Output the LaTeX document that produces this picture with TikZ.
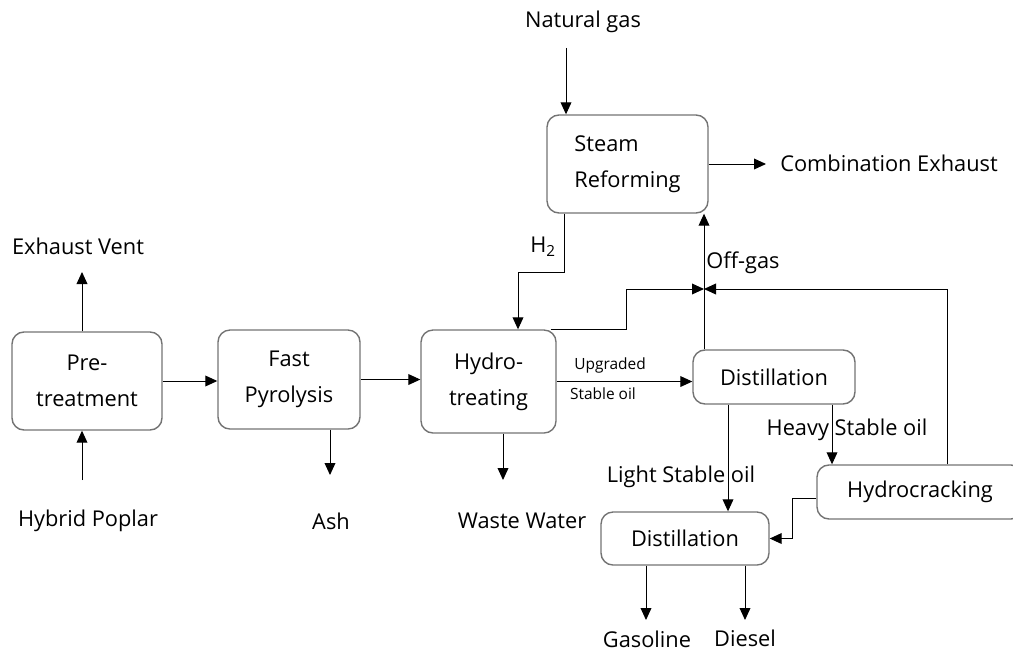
\documentclass[tikz,border=0pt]{standalone}
\usepackage{fontspec}
\setmainfont{Open Sans}
\usetikzlibrary{arrows.meta}

\begin{document}
\begin{tikzpicture}[
  font=\fontsize{15.5}{25.6}\selectfont,
  unit/.style={draw=black!55, line width=1pt, rounded corners=0.3cm, align=center, inner sep=0pt},
  flow/.style={line width=0.7pt, -{Triangle[length=0.3cm,width=0.27cm]}},
  tag/.style={inner sep=0pt},
  smalltag/.style={inner sep=0pt, font=\fontsize{11}{13}\selectfont}
]
\useasboundingbox (0,0) rectangle (25.325,-16.375);
\clip (0,0) rectangle (25.325,-16.375);
\node[unit, minimum width=3.750cm, minimum height=2.450cm] (pre) at (2.175,-9.525) {Pre-\\treatment};
\node[unit, minimum width=3.550cm, minimum height=2.475cm] (fast) at (7.225,-9.488) {Fast\\Pyrolysis};
\node[unit, minimum width=3.375cm, minimum height=2.575cm] (hydro) at (12.213,-9.538) {Hydro-\\treating};
\node[unit, minimum width=4.025cm, minimum height=2.450cm, align=left] (steam) at (15.688,-4.100) {Steam\\Reforming};
\node[unit, minimum width=4.050cm, minimum height=1.350cm] (distA) at (19.350,-9.425) {Distillation};
\node[unit, minimum width=5.150cm, minimum height=1.350cm] (crack) at (23.000,-12.300) {Hydrocracking};
\node[unit, minimum width=4.200cm, minimum height=1.325cm] (distB) at (17.125,-13.463) {Distillation};

\node[tag] (vent) at (1.950,-6.150) {Exhaust Vent};
\node[tag] (poplar) at (2.200,-13.025) {Hybrid Poplar};
\node[tag] (ash) at (8.275,-13.025) {Ash};
\node[tag] (water) at (13.050,-13.025) {Waste Water};
\node[tag] (gas) at (14.575,-0.550) {Natural gas};
\node[tag, anchor=west] (exhaust) at (19.500,-4.075) {Combination Exhaust};
\node[tag] (htwo) at (13.575,-6.175) {H\textsubscript{2}};
\node[tag, anchor=west] (offgas) at (17.650,-6.575) {Off-gas};
\node[smalltag] (upg) at (15.250,-9.125) {Upgraded};
\node[smalltag] (sto) at (15.075,-9.850) {Stable oil};
\node[tag] (light) at (17.025,-11.925) {Light Stable oil};
\node[tag] (heavy) at (21.175,-10.750) {Heavy Stable oil};
\node[tag] (gasoline) at (16.175,-15.975) {Gasoline};
\node[tag] (diesel) at (18.625,-15.950) {Diesel};

\coordinate (ventend) at (2.050,-6.800);
\coordinate (poplarstart) at (2.050,-12.000);
\coordinate (ashend) at (8.250,-11.875);
\coordinate (waterend) at (12.575,-12.000);
\coordinate (gasstart) at (14.150,-1.200);
\coordinate (exhaustend) at (19.150,-4.100);
\coordinate (j) at (17.600,-7.225);
\coordinate (hbend) at (15.650,-7.225);
\coordinate (cbend) at (23.675,-7.225);
\coordinate (hturn) at (14.100,-6.800);
\coordinate (gasolineend) at (16.150,-15.500);
\coordinate (dieselend) at (18.625,-15.500);

\draw[flow] (pre.north -| ventend) -- (ventend);
\draw[flow] (poplarstart) -- (pre.south -| poplarstart);
\draw[flow] (pre.east) -- (pre.east -| fast.west);
\draw[flow] (fast.east) -- (fast.east -| hydro.west);
\draw[flow] (fast.south -| ashend) -- (ashend);
\draw[flow] (hydro.south -| waterend) -- (waterend);
\draw[flow] (hydro.east) -- (hydro.east -| distA.west);
\draw[flow] ([xshift=-0.15cm]hydro.north east) -| (hbend) -- (j);
\draw[flow] (crack.north -| cbend) -- (cbend) -- (j);
\draw[flow] (distA.north -| j) -- (steam.south -| j);
\draw[flow] (steam.south -| hturn) -- (hturn) -| (hydro.north -| 12.950,0);
\draw[flow] (gasstart) -- (steam.north -| gasstart);
\draw[flow] (steam.east) -- (exhaustend);
\draw[flow] (distA.south -| 18.200,0) -- (distB.north -| 18.200,0);
\draw[flow] (distA.south -| 20.800,0) -- (crack.north -| 20.800,0);
\draw[flow] ([yshift=-0.15cm]crack.west) -| ([xshift=0.575cm]distB.east) -- (distB.east);
\draw[flow] (distB.south -| gasolineend) -- (gasolineend);
\draw[flow] (distB.south -| dieselend) -- (dieselend);
\end{tikzpicture}
\end{document}
